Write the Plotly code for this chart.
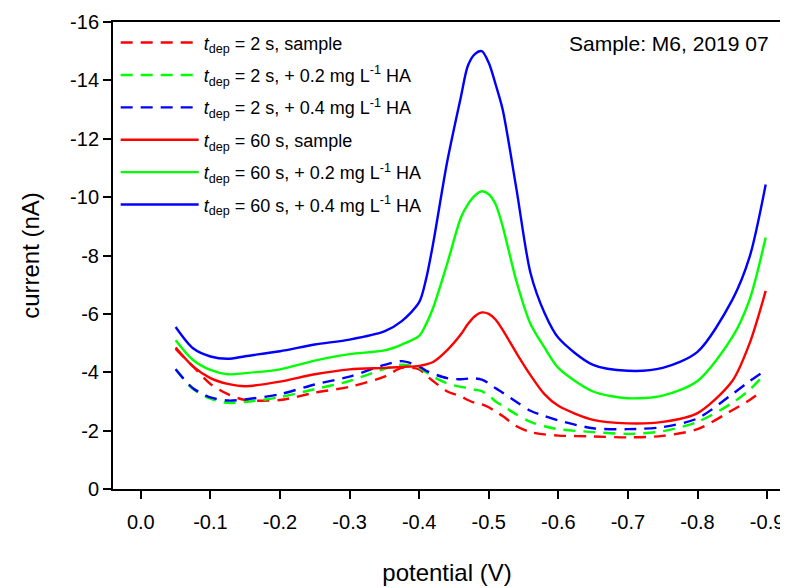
import plotly.graph_objects as go

# potential grid (V)
potential_2s = [-0.05, -0.075, -0.1, -0.125, -0.15, -0.2, -0.25, -0.3, -0.35, -0.375, -0.4, -0.41,
                -0.42, -0.44, -0.46, -0.47, -0.48, -0.49, -0.5, -0.51, -0.52, -0.54, -0.56,
                -0.58, -0.6, -0.65, -0.7, -0.75, -0.8, -0.85, -0.875, -0.893]
potential_60s = [-0.05, -0.075, -0.1, -0.125, -0.15, -0.2, -0.25, -0.3, -0.35, -0.375, -0.4, -0.41,
                 -0.42, -0.44, -0.46, -0.47, -0.48, -0.49, -0.5, -0.51, -0.52, -0.54, -0.56,
                 -0.58, -0.6, -0.65, -0.7, -0.75, -0.8, -0.85, -0.875, -0.898]

# currents (nA)
i_2s_sample = [-4.8, -4.2, -3.6, -3.25, -3.05, -3.05, -3.3, -3.5, -3.85, -4.15, -4.1, -3.9,
               -3.7, -3.35, -3.17, -3.05, -2.95, -2.9, -2.8, -2.65, -2.5, -2.15, -1.95,
               -1.87, -1.83, -1.8, -1.77, -1.82, -2.05, -2.7, -3.05, -3.36]
i_2s_02 = [-4.1, -3.42, -3.1, -2.95, -2.98, -3.15, -3.42, -3.7, -4.12, -4.26, -4.15, -4.0,
           -3.85, -3.62, -3.5, -3.46, -3.4, -3.35, -3.2, -3.0, -2.85, -2.55, -2.3,
           -2.15, -2.05, -1.95, -1.89, -1.98, -2.3, -2.95, -3.4, -3.85]
i_2s_04 = [-4.1, -3.45, -3.14, -3.03, -3.07, -3.25, -3.58, -3.85, -4.25, -4.38, -4.2, -4.05,
           -3.95, -3.8, -3.76, -3.78, -3.79, -3.75, -3.62, -3.45, -3.3, -2.98, -2.68,
           -2.5, -2.35, -2.08, -2.05, -2.12, -2.42, -3.25, -3.7, -3.99]
i_60s_sample = [-4.85, -4.2, -3.8, -3.6, -3.52, -3.68, -3.93, -4.1, -4.15, -4.18, -4.22, -4.27,
                -4.35, -4.75, -5.3, -5.65, -5.92, -6.05, -6.0, -5.8, -5.45, -4.65, -3.9,
                -3.25, -2.85, -2.37, -2.25, -2.3, -2.6, -3.7, -5.0, -6.79]
i_60s_02 = [-5.1, -4.42, -4.08, -3.93, -3.97, -4.1, -4.4, -4.62, -4.75, -4.95, -5.25, -5.65,
            -6.2, -7.7, -9.3, -9.75, -10.05, -10.2, -10.1, -9.75, -9.0, -7.1, -5.65,
            -4.85, -4.15, -3.34, -3.11, -3.2, -3.7, -5.2, -6.5, -8.62]
i_60s_04 = [-5.55, -4.82, -4.54, -4.46, -4.55, -4.72, -4.95, -5.12, -5.4, -5.75, -6.4, -7.2,
            -8.4, -11.18, -13.44, -14.5, -14.9, -15.0, -14.6, -13.85, -13.0, -10.25, -7.4,
            -6.04, -5.18, -4.25, -4.05, -4.15, -4.7, -6.48, -7.96, -10.43]

series_names = [
    "<i>t</i><sub>dep</sub> = 2 s, sample",
    "<i>t</i><sub>dep</sub> = 2 s, + 0.2 mg L<sup>-1</sup> HA",
    "<i>t</i><sub>dep</sub> = 2 s, + 0.4 mg L<sup>-1</sup> HA",
    "<i>t</i><sub>dep</sub> = 60 s, sample",
    "<i>t</i><sub>dep</sub> = 60 s, + 0.2 mg L<sup>-1</sup> HA",
    "<i>t</i><sub>dep</sub> = 60 s, + 0.4 mg L<sup>-1</sup> HA",
]

x_tickvals = [0.0, -0.1, -0.2, -0.3, -0.4, -0.5, -0.6, -0.7, -0.8, -0.9]
x_ticktext = ["0.0", "-0.1", "-0.2", "-0.3", "-0.4", "-0.5", "-0.6", "-0.7", "-0.8", "-0.9"]
y_tickvals = [0, -2, -4, -6, -8, -10, -12, -14, -16]
y_ticktext = ["0", "-2", "-4", "-6", "-8", "-10", "-12", "-14", "-16"]

colors = ["#FF0000", "#00FF00", "#0000FF"]
FONT = "Liberation Sans, Arial, sans-serif"

fig = go.Figure()
data_2s = [i_2s_sample, i_2s_02, i_2s_04]
data_60s = [i_60s_sample, i_60s_02, i_60s_04]
for k in range(3):
    fig.add_trace(go.Scatter(x=potential_2s, y=data_2s[k], mode="lines", name=series_names[k],
                             legendgroup="g%d" % k,
                             line=dict(color=colors[k], width=2.4, dash="12px,8px", shape="spline", smoothing=0.8)))
for k in range(3):
    fig.add_trace(go.Scatter(x=potential_60s, y=data_60s[k], mode="lines", name=series_names[k + 3],
                             legendgroup="g%d" % (k + 3),
                             line=dict(color=colors[k], width=2.4, shape="spline", smoothing=0.8)))

# the page body adds an 8px offset; figure is sized so the plot area lands where the reference has it
fig.update_layout(
    width=780, height=580,
    margin=dict(l=105, r=7, t=14, b=99),
    paper_bgcolor="white", plot_bgcolor="white",
    font=dict(family=FONT, size=20, color="black"),
    showlegend=True,
    legend=dict(x=0.004, y=0.995, xanchor="left", yanchor="top", traceorder="grouped",
                bgcolor="rgba(0,0,0,0)", font=dict(size=18, family=FONT),
                itemwidth=78, tracegroupgap=6),
    annotations=[dict(text="Sample: M6, 2019 07", x=0.985, y=0.955, xref="paper", yref="paper",
                      xanchor="right", yanchor="middle", showarrow=False,
                      font=dict(size=21, family=FONT))],
)
fig.update_xaxes(range=[0.04, -0.92], tickvals=x_tickvals, ticktext=x_ticktext, automargin=False,
                 showgrid=False, zeroline=False, showline=True, linecolor="black", linewidth=2,
                 mirror=True, ticks="outside", ticklen=8, tickwidth=2, tickcolor="black",
                 ticklabelstandoff=6,
                 tickfont=dict(size=20), title=dict(text="potential (V)", font=dict(size=24), standoff=32))
fig.update_yaxes(range=[0, -16], tickvals=y_tickvals, ticktext=y_ticktext, automargin=False,
                 showgrid=False, zeroline=False, showline=True, linecolor="black", linewidth=2,
                 mirror=True, ticks="outside", ticklen=8, tickwidth=2, tickcolor="black",
                 tickfont=dict(size=20), title=dict(text="current (nA)", font=dict(size=24), standoff=24))

fig.write_html("out.html")
